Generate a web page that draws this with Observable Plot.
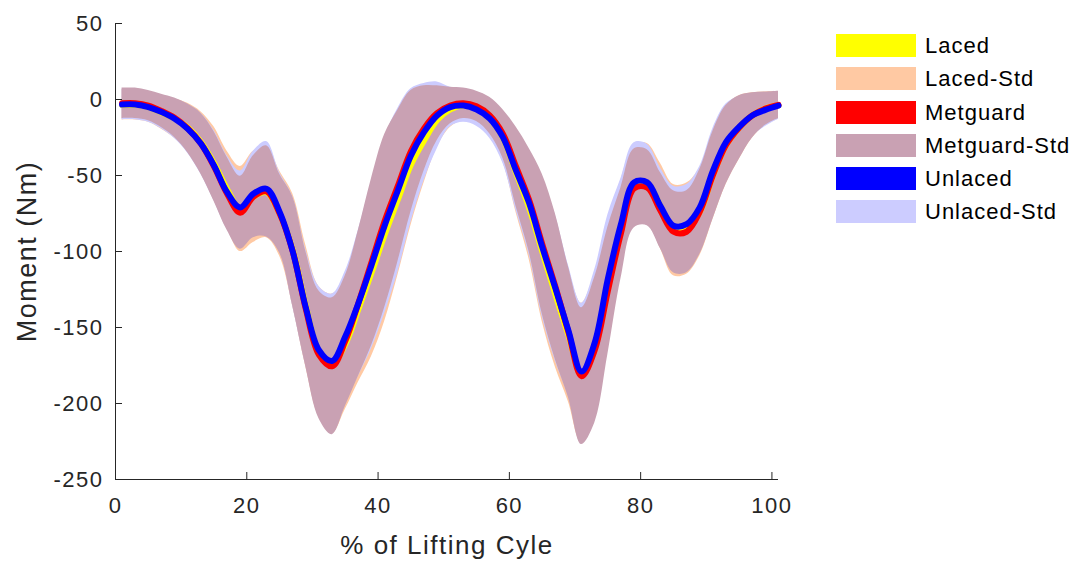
<!DOCTYPE html>
<html><head><meta charset="utf-8">
<script src="https://cdn.jsdelivr.net/npm/d3@7"></script>
<script src="https://cdn.jsdelivr.net/npm/@observablehq/plot@0.6"></script>
<style>
body{margin:0;background:#fff;}
#wrap{position:relative;width:1075px;height:561px;font-family:"Liberation Sans",Arial,sans-serif;}
#legend{position:absolute;left:836px;top:34px;}
.row{display:flex;align-items:center;height:23px;margin-bottom:10.3px;}
.sw{width:80px;height:23px;margin-right:9px;}
.lab{font-size:22px;color:#000;letter-spacing:1px;line-height:23px;}
</style></head><body><div id="wrap"><div id="legend"></div></div>
<script>
const pct = [1,3,5,7,9,11,13,15,17,19,21,23,25,27,29,31,33,35,37,39,41,43,45,47,49,51,53,55,57,59,61,63,65,67,69,71,73,75,77,79,81,83,85,87,89,91,93,95,97,99,101];

const lacedMean = [-3.5,-3.5,-5,-8.5,-12.5, -18.5,-28,-42,-59,-72, -64,-61,-75,-99,-136, -166,-174,-161,-138,-114, -89,-66,-43,-27,-13.5, -6.5,-4,-6,-12.5,-25, -48,-71,-100,-128,-155, -180,-162,-120,-83,-56, -55,-70,-86,-85,-74, -50,-30,-18.5,-10.5,-6,-4];
const lacedStd = [10,10,10,11,13, 16,20,24,25,28, 30,30,28,37,40, 43,46,43,48,55, 57,50,40,28,18, 12,10,10,12,16, 26,34,46,48,44, 46,48,42,30,26, 26,28,30,30,29, 29,26,21,15,11,9];

const metguardMean = [-2.5,-2.5,-4,-7.5,-12, -19,-29,-44,-62,-74.5, -64,-60.5,-75,-100,-138, -168,-175.5,-159,-134,-107, -80,-57,-34,-19,-9, -4,-2.5,-4.5,-10.5,-22.5, -44,-66,-95,-123,-153, -182,-165,-126,-88,-58.5, -58,-73,-87,-87,-74, -50,-30,-18.5,-10.5,-6,-3.5];
const metguardStd = [10,10,10,11,13, 16,20,23,24,24, 27,30,26,36,38, 42,45,43,48,55, 57,50,40,28,18, 12,10,10,12,16, 26,34,46,48,43, 45,48,42,30,26, 25,25,27,27,28, 29,26,21,15,11,9];

const unlacedMean = [-3.3,-3.3,-5,-8.3,-12.7, -19.3,-29,-43.4,-61,-71, -62,-58.7,-74,-100,-137, -165,-172,-156,-134,-109, -83,-60,-37,-21.5,-10.5, -5,-4,-6.6,-12.5,-24.8, -46.7,-68,-97,-124,-152, -179,-160,-118,-82,-54.5, -54.5,-70,-83,-82,-71, -47,-28,-18,-10.5,-6.8,-4];
const unlacedStd = [10,10,10,11,13, 16,20,23,24,24, 28,31,26,36,38, 42,44,43,48,55, 58,54,44,32,22, 13,11,11,13,17, 26,34,46,48,43, 45,48,42,30,26, 25,25,26,26,27, 28,25,20,14,11,9];

const xTicks = [0,20,40,60,80,100];
const yTicks = [-250,-200,-150,-100,-50,0,50];

const legendNames = ["Laced","Laced-Std","Metguard","Metguard-Std","Unlaced","Unlaced-Std"];
const legendColors = ["#ffff00","#ffc9a3","#ff0000","#c9a1b3","#0000ff","#ccccff"];

const mk = (mean, std) => pct.map((x, i) => ({x, m: mean[i], lo: mean[i] - std[i], hi: mean[i] + std[i]}));
const laced = mk(lacedMean, lacedStd);
const metguard = mk(metguardMean, metguardStd);
const unlaced = mk(unlacedMean, unlacedStd);

const curve = "catmull-rom";
const ink = "#262626";

const chart = Plot.plot({
  width: 1075, height: 561,
  marginLeft: 115, marginRight: 297, marginTop: 23, marginBottom: 82,
  x: {domain: [0, 101]},
  y: {domain: [-250, 50]},
  style: {fontFamily: '"Liberation Sans", Arial, sans-serif', fontSize: "22px", color: ink, letterSpacing: "1.5px", background: "white"},
  marks: [
    Plot.areaY(laced, {x: "x", y1: "lo", y2: "hi", fill: legendColors[1], curve}),
    Plot.areaY(unlaced, {x: "x", y1: "lo", y2: "hi", fill: legendColors[5], curve}),
    Plot.areaY(metguard, {x: "x", y1: "lo", y2: "hi", fill: legendColors[3], curve}),
    Plot.line(laced, {x: "x", y: "m", stroke: legendColors[0], strokeWidth: 6, curve}),
    Plot.line(metguard, {x: "x", y: "m", stroke: legendColors[2], strokeWidth: 6, curve}),
    Plot.line(unlaced, {x: "x", y: "m", stroke: legendColors[4], strokeWidth: 6, curve}),
    Plot.ruleY([-250], {stroke: ink, strokeWidth: 1}),
    Plot.ruleX([0], {stroke: ink, strokeWidth: 1}),
    Plot.axisX({ticks: xTicks, tickSize: -7, tickPadding: 25, tickFormat: d => String(d), label: null, stroke: ink}),
    Plot.axisY({ticks: yTicks, tickSize: -7, tickPadding: 19, tickFormat: d => String(d), label: null, stroke: ink}),
    Plot.text(["% of Lifting Cyle"], {frameAnchor: "bottom", textAnchor: "middle", lineAnchor: "middle", dy: 66, fontSize: 26, fill: ink}),
    Plot.text(["Moment (Nm)"], {frameAnchor: "left", textAnchor: "middle", lineAnchor: "middle", rotate: -90, dx: -88, fontSize: 27, fill: ink})
  ]
});
document.getElementById("wrap").prepend(chart);

const leg = document.getElementById("legend");
legendNames.forEach((n, i) => {
  const r = document.createElement("div"); r.className = "row";
  const s = document.createElement("div"); s.className = "sw"; s.style.background = legendColors[i];
  const t = document.createElement("span"); t.className = "lab"; t.textContent = n;
  r.appendChild(s); r.appendChild(t); leg.appendChild(r);
});
</script></body></html>
